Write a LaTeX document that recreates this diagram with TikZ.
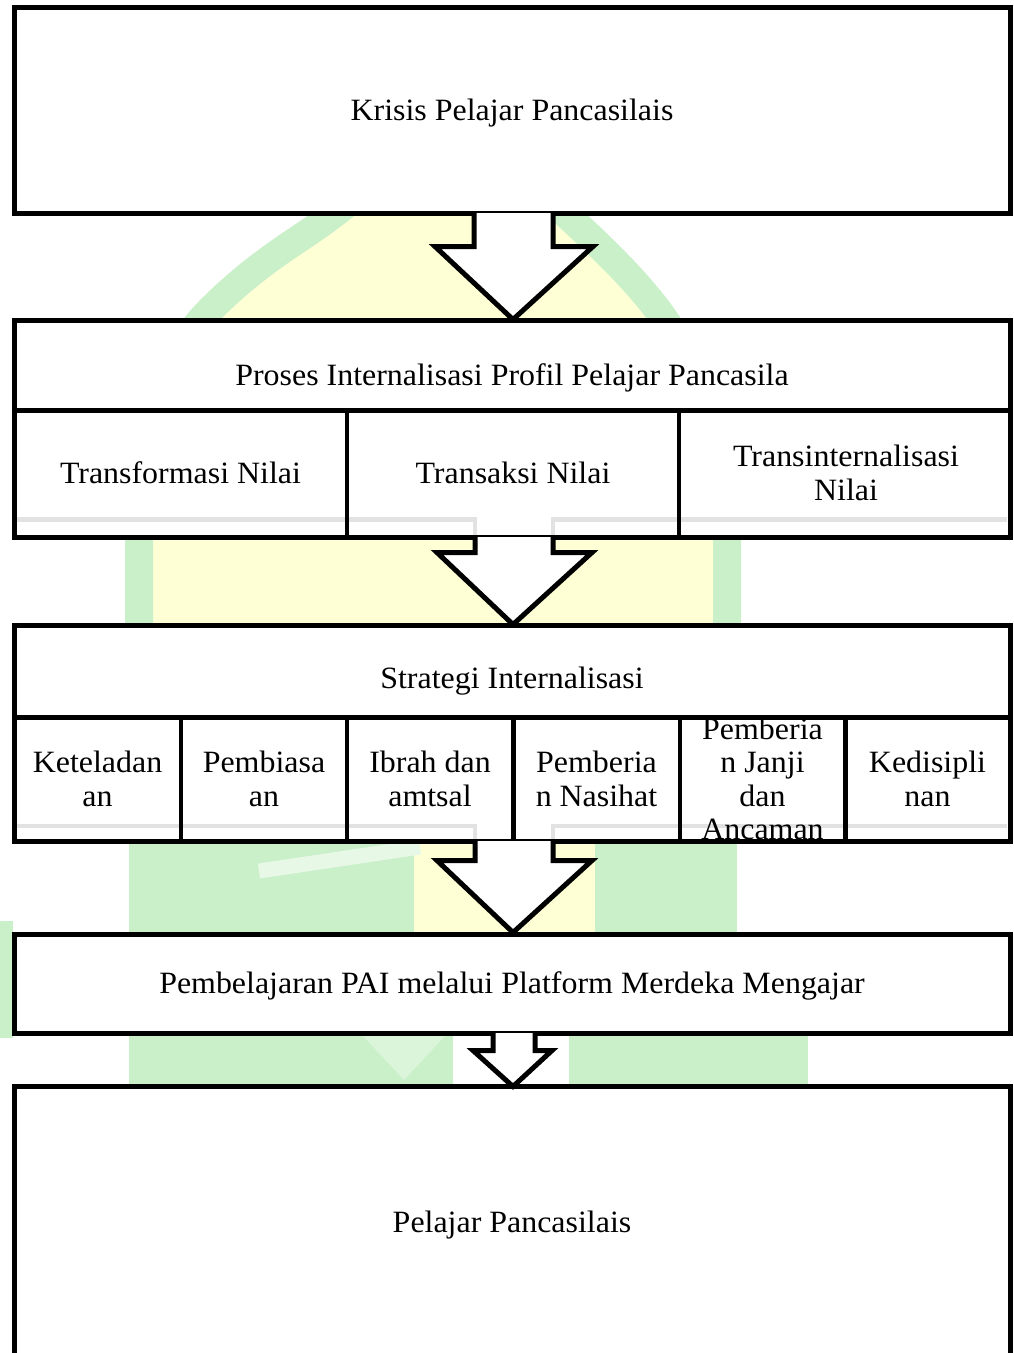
\documentclass[tikz,border=0pt]{standalone}
\usepackage{fontspec}
\setmainfont[FakeStretch=1.03]{Liberation Serif}
\usetikzlibrary{calc}
\definecolor{wmgreen}{RGB}{202,240,202}
\definecolor{wmyellow}{RGB}{255,255,214}
\definecolor{ghost}{RGB}{226,226,226}
\tikzset{
  box/.style={draw=black, fill=white, line width=5pt, rectangle, inner sep=0pt, minimum width=996pt},
  cellbox/.style={draw=black, line width=4pt, rectangle, inner sep=0pt},
  framebox/.style={draw=black, fill=white, line width=5pt, rectangle, inner sep=0pt, minimum width=996pt},
  txt/.style={font=\fontsize{31}{33.5}\selectfont, align=center, inner sep=0pt},
  blockarrow/.style={draw=black, fill=white, line width=5pt},
  ghostline/.style={draw=ghost, line width=4.5pt},
}
\begin{document}
\begin{tikzpicture}[x=1pt,y=-1pt]
\clip (0,0) rectangle (1014,1353);
\fill[white] (0,0) rectangle (1014,1353);
% ---------------- watermark (faint logo) ----------------
\fill[wmyellow] (139,940) -- (139,540) .. controls (139,420) and (170,350) .. (210,310)
   .. controls (260,260) and (300,240) .. (330,217) .. controls (380,180) and (420,130) .. (445,80)
   .. controls (480,130) and (530,180) .. (569,217) .. controls (610,255) and (640,285) .. (663,317)
   .. controls (700,370) and (727,440) .. (727,540) -- (727,940) -- cycle;
\draw[wmgreen, line width=28pt] (139,660) -- (139,540) .. controls (139,420) and (170,350) .. (210,310)
   .. controls (260,260) and (300,240) .. (330,217) .. controls (380,180) and (420,130) .. (445,80)
   .. controls (480,130) and (530,180) .. (569,217) .. controls (610,255) and (640,285) .. (663,317)
   .. controls (700,370) and (727,440) .. (727,540) -- (727,660);
\fill[wmgreen] (129,842) -- (414,842) -- (414,940) -- (129,940) -- cycle;
\fill[wmgreen] (595,842) -- (737,842) -- (737,940) -- (595,940) -- cycle;
\draw[white!55!wmgreen, line width=15pt] (259,871) -- (420,847);
\fill[wmgreen] (129,1030) -- (453,1030) -- (453,1090) -- (129,1090) -- cycle;
\fill[white!30!wmgreen] (362,1035) -- (446,1035) -- (404,1080) -- cycle;
\fill[wmgreen] (569,1030) -- (808,1030) -- (808,1090) -- (569,1090) -- cycle;
\fill[wmgreen] (0,921) rectangle (13,1038);
% ---------------- boxes ----------------
\node[box, minimum height=206pt] (k) at (512,110) {};
% table 1
\node[framebox, minimum height=217pt] (f2) at (512,428.5) {};
\node[box, minimum height=90.5pt] (p) at (512,365.25) {};
\draw[ghostline] (17,519.5) -- (475,519.5) -- (475,535);
\draw[ghostline] (553,535) -- (553,519.5) -- (1007,519.5);
\node[cellbox, minimum width=333pt, minimum height=126.5pt] (c21) at (180.5,473.75) {};
\node[cellbox, minimum width=332pt, minimum height=126.5pt] (c22) at (513,473.75) {};
\node[cellbox, minimum width=331pt, minimum height=126.5pt] (c23) at (844.5,473.75) {};
% table 2
\node[framebox, minimum height=216pt] (f3) at (512,733) {};
\node[box, minimum height=92pt] (s) at (512,671) {};
\draw[ghostline] (17,826) -- (475,826) -- (475,839);
\draw[ghostline] (553,839) -- (553,826) -- (1007,826);
\foreach \i/\cx in {1/97.5,2/264,3/430,4/596.5,5/762.5,6/927.5} {
  \node[cellbox, minimum width=166pt, minimum height=124pt] (c3\i) at (\cx,779) {};
}
\node[box, minimum height=99pt] (m) at (512,983.5) {};
\node[box, minimum height=274pt] (pp) at (512,1223) {};
% ---------------- texts ----------------
\node[txt, anchor=base] (tk) at (512,120) {Krisis Pelajar Pancasilais};
\node[txt, anchor=base] (tp) at (512,385) {Proses Internalisasi Profil Pelajar Pancasila};
\node[txt, anchor=base] (t21) at (180.5,483) {Transformasi Nilai};
\node[txt, anchor=base] (t22) at (513,483) {Transaksi Nilai};
\node[txt] (t23) at (846,473) {Transinternalisasi\\Nilai};
\node[txt, anchor=base] (ts) at (512,688) {Strategi Internalisasi};
\node[txt] (t31) at (97.5,779) {Keteladan\\an};
\node[txt] (t32) at (264,779) {Pembiasa\\an};
\node[txt] (t33) at (430,779) {Ibrah dan\\amtsal};
\node[txt] (t34) at (596.5,779) {Pemberia\\n Nasihat};
\node[txt] (t35) at (762.5,779) {Pemberia\\n Janji\\dan\\Ancaman};
\node[txt] (t36) at (927.5,779) {Kedisipli\\nan};
\node[txt, anchor=base] (tm) at (512,993) {Pembelajaran PAI melalui Platform Merdeka Mengajar};
\node[txt, anchor=base] (tpp) at (512,1232) {Pelajar Pancasilais};
% ---------------- block arrows ----------------
\draw[blockarrow] ($(k.south)+(-38,-2.5)$) -- ($(k.south)+(-38,31)$) -- ($(k.south)+(-77,31)$)
   -- ($(p.north)+(1,2)$) -- ($(k.south)+(81,31)$) -- ($(k.south)+(41,31)$) -- ($(k.south)+(41,-2.5)$);
\draw[blockarrow] ($(f2.south)+(-37,-2.5)$) -- ($(f2.south)+(-37,13)$) -- ($(f2.south)+(-75,13)$)
   -- ($(s.north)+(1,2)$) -- ($(f2.south)+(80,13)$) -- ($(f2.south)+(41,13)$) -- ($(f2.south)+(41,-2.5)$);
\draw[blockarrow] ($(f3.south)+(-37,-2.5)$) -- ($(f3.south)+(-37,17)$) -- ($(f3.south)+(-75,17)$)
   -- ($(m.north)+(1,1)$) -- ($(f3.south)+(80,17)$) -- ($(f3.south)+(41,17)$) -- ($(f3.south)+(41,-2.5)$);
\draw[blockarrow] ($(m.south)+(-19,-2.5)$) -- ($(m.south)+(-19,15)$) -- ($(m.south)+(-39,15)$)
   -- ($(pp.north)+(1,3)$) -- ($(m.south)+(40,15)$) -- ($(m.south)+(23,15)$) -- ($(m.south)+(23,-2.5)$);
\end{tikzpicture}
\end{document}
